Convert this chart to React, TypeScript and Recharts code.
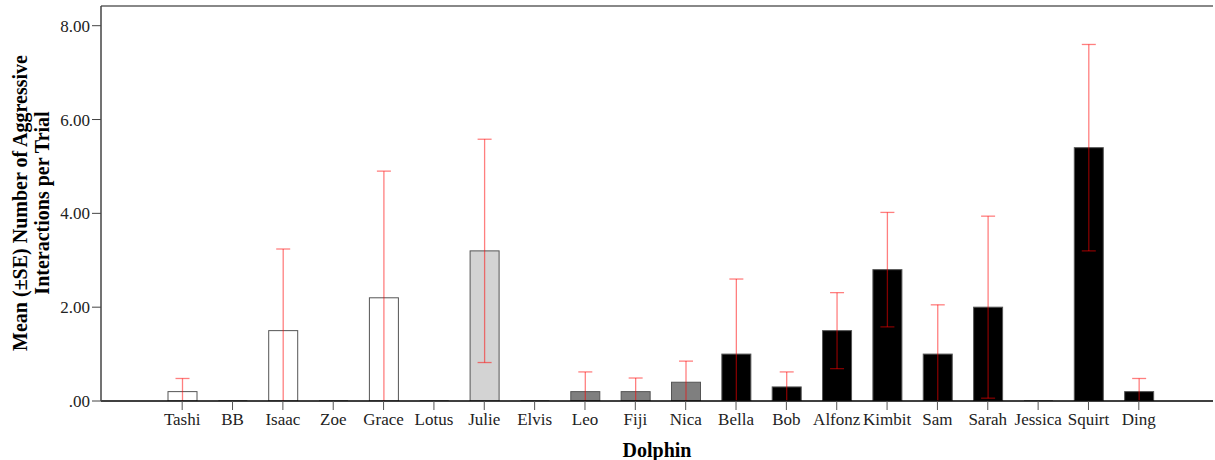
import { ComposedChart, Bar, XAxis, YAxis, ReferenceLine } from 'recharts'

const dolphins = ['Tashi', 'BB', 'Isaac', 'Zoe', 'Grace', 'Lotus', 'Julie', 'Elvis', 'Leo', 'Fiji', 'Nica', 'Bella', 'Bob', 'Alfonz', 'Kimbit', 'Sam', 'Sarah', 'Jessica', 'Squirt', 'Ding']
const means = [0.2, 0, 1.5, 0, 2.2, 0, 3.2, 0, 0.2, 0.2, 0.4, 1.0, 0.3, 1.5, 2.8, 1.0, 2.0, 0, 5.4, 0.2]
const se = [0.28, 0, 1.74, 0, 2.7, 0, 2.38, 0, 0.42, 0.29, 0.45, 1.6, 0.32, 0.81, 1.22, 1.05, 1.94, 0, 2.2, 0.28]
const groups = ['white', 'white', 'white', 'white', 'white', 'white', 'light', 'light', 'gray', 'gray', 'gray', 'black', 'black', 'black', 'black', 'black', 'black', 'black', 'black', 'black']
const yTicks = [0, 2, 4, 6, 8]

const groupFill: Record<string, string> = {
  white: '#ffffff',
  light: '#d3d3d3',
  gray: '#7f7f7f',
  black: '#000000',
}

const data = dolphins.map((name, i) => ({
  name,
  mean: means[i],
  lo: Math.max(0, means[i] - se[i]),
  hi: means[i] + se[i],
  fill: groupFill[groups[i]],
}))

const FONT = '"Liberation Serif", "Times New Roman", serif'
const Y_MAX = 8.42

function MeanBar(props: any) {
  const { x, y, width, height, payload } = props
  if (!payload || payload.mean === 0) {
    const base = y + (height || 0)
    return <line x1={x} x2={x + width} y1={base - 0.5} y2={base - 0.5} stroke="#999" strokeWidth={1} />
  }
  return <rect x={x} y={y} width={width} height={height} fill={payload.fill} stroke="#555" strokeWidth={1} />
}

function ErrBar(props: any) {
  const { x, y, width, height, payload } = props
  if (!payload || payload.hi === payload.mean) return null
  const top = Math.min(y, y + height)
  const bottom = Math.max(y, y + height)
  const cx = x + width / 2
  const cap = 7
  return (
    <g stroke="#ff0000" strokeOpacity={0.5} strokeWidth={1.3}>
      <line x1={cx} x2={cx} y1={top} y2={bottom} />
      <line x1={cx - cap} x2={cx + cap} y1={top} y2={top} />
      {payload.lo > 0 && <line x1={cx - cap} x2={cx + cap} y1={bottom} y2={bottom} />}
    </g>
  )
}

const YTitle = () => (
  <g fontFamily={FONT} fontWeight="bold" fontSize={20} fill="#000">
    <text x={20} y={203} transform="rotate(-90 20 203)" textAnchor="middle" dominantBaseline="central">
      Mean (±SE) Number of Aggressive
    </text>
    <text x={42} y={203} transform="rotate(-90 42 203)" textAnchor="middle" dominantBaseline="central">
      Interactions per Trial
    </text>
  </g>
)

export default function App() {
  return (
    <div style={{ position: 'absolute', left: 0, top: 0, background: '#fff' }}>
      <ComposedChart
        width={1215}
        height={460}
        data={data}
        margin={{ top: 6, right: 2, left: 0, bottom: 0 }}
      >
        <XAxis
          dataKey="name"
          height={59}
          padding={{ left: 56, right: 49 }}
          interval={0}
          tickSize={9}
          tickMargin={3}
          axisLine={{ stroke: '#000', strokeWidth: 1.5 }}
          tickLine={{ stroke: '#555' }}
          tick={{ fontSize: 17, fontFamily: FONT, fill: '#222' }}
          label={{
            value: 'Dolphin',
            position: 'insideBottom',
            offset: 3,
            style: { fontFamily: FONT, fontWeight: 'bold', fontSize: 20, fill: '#000' },
          }}
        />
        <XAxis xAxisId="err" dataKey="name" hide padding={{ left: 56, right: 49 }} />
        <YAxis
          width={101}
          domain={[0, Y_MAX]}
          ticks={yTicks}
          tickSize={9}
          tickMargin={2}
          allowDataOverflow
          axisLine={{ stroke: '#444', strokeWidth: 1.5 }}
          tickLine={{ stroke: '#444' }}
          tick={{ fontSize: 17, fontFamily: FONT, fill: '#222' }}
          tickFormatter={(v: number) => (v === 0 ? '.00' : v.toFixed(2))}
          label={<YTitle />}
        />
        <ReferenceLine y={Y_MAX} stroke="#888" strokeWidth={2} ifOverflow="visible" />
        <Bar dataKey="mean" barSize={29} shape={<MeanBar />} isAnimationActive={false} />
        <Bar
          xAxisId="err"
          dataKey={(d: any) => [d.lo, d.hi]}
          barSize={29}
          shape={<ErrBar />}
          isAnimationActive={false}
        />
      </ComposedChart>
    </div>
  )
}
